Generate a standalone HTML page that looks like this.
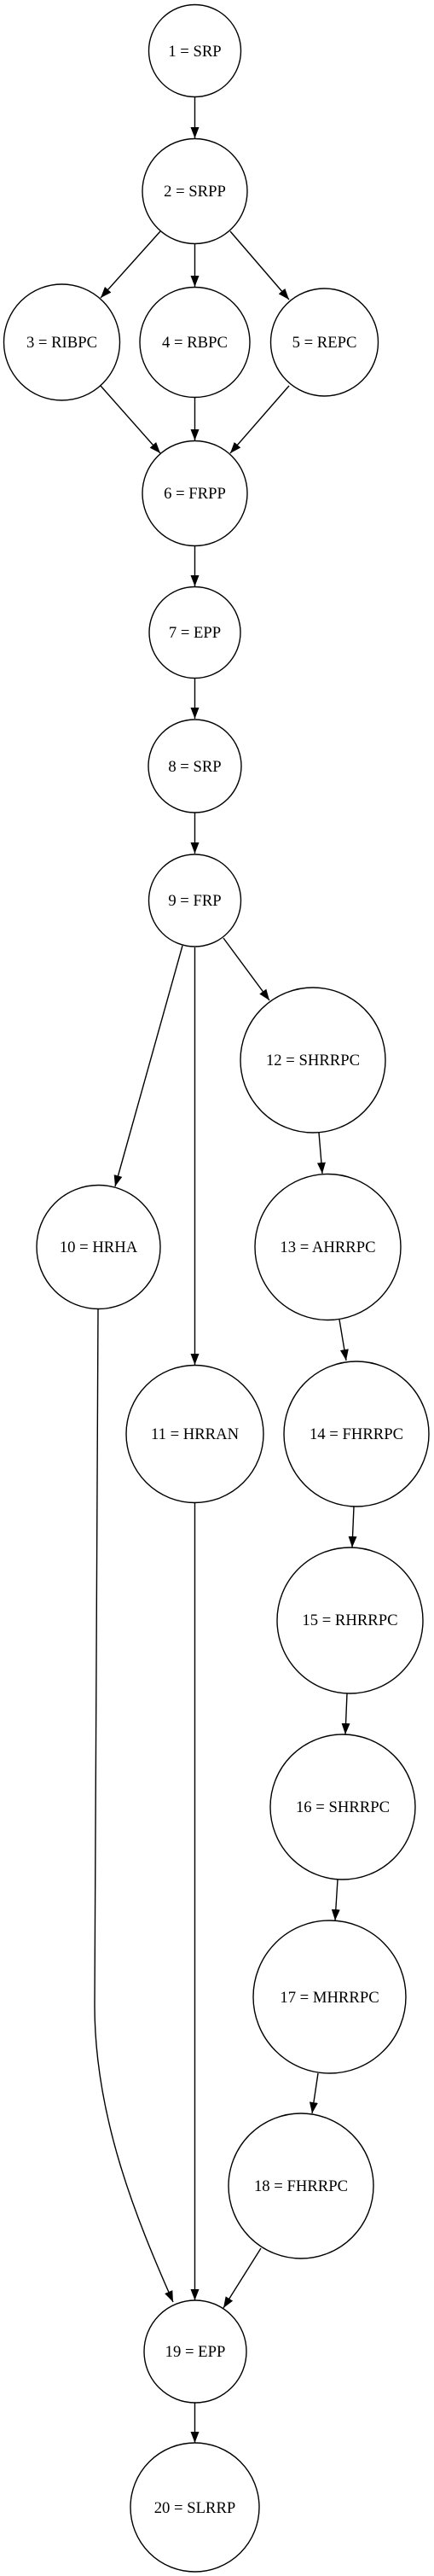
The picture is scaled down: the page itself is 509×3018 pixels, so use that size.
<!DOCTYPE html>
<html><head><meta charset="utf-8"><style>
html,body{margin:0;padding:0;background:#fff;}
svg{display:block;}
text{font-family:"Liberation Serif",serif;font-size:18.67px;fill:#000;text-anchor:middle;}
</style></head><body>
<svg width="509" height="3018" viewBox="0 0 509 3018" xmlns="http://www.w3.org/2000/svg">
<defs>
<marker id="a" markerUnits="userSpaceOnUse" markerWidth="16" markerHeight="12" refX="13" refY="5" orient="auto">
<path d="M0,0 L13,5 L0,10 Z" fill="#000"/>
</marker>
</defs>
<g fill="none" stroke="#000" stroke-width="1.4">
<circle cx="228.5" cy="59.5" r="54"/>
<circle cx="228.5" cy="224" r="61.5"/>
<circle cx="72.5" cy="401" r="68"/>
<circle cx="228.5" cy="401" r="64.5"/>
<circle cx="380.5" cy="401" r="63"/>
<circle cx="228.5" cy="578" r="61.5"/>
<circle cx="228.5" cy="741" r="53.5"/>
<circle cx="228.5" cy="897.5" r="54.5"/>
<circle cx="228.5" cy="1055" r="54"/>
<circle cx="115.5" cy="1461" r="72.5"/>
<circle cx="228.5" cy="1680" r="80.5"/>
<circle cx="367" cy="1242" r="85"/>
<circle cx="384.5" cy="1461" r="85.5"/>
<circle cx="418" cy="1680" r="85"/>
<circle cx="410.5" cy="1898.5" r="85.5"/>
<circle cx="402" cy="2117" r="85"/>
<circle cx="386.5" cy="2339.5" r="89.5"/>
<circle cx="353" cy="2561" r="85"/>
<circle cx="229" cy="2755" r="60"/>
<circle cx="228.5" cy="2937.5" r="75.5"/>
</g>
<g fill="none" stroke="#000" stroke-width="1.4" marker-end="url(#a)">
<line x1="228.5" y1="114" x2="228.5" y2="162"/>
<line x1="188" y1="271" x2="118" y2="349"/>
<line x1="228.5" y1="286" x2="228.5" y2="336"/>
<line x1="270" y1="271" x2="339" y2="351"/>
<line x1="118" y1="452" x2="188" y2="531"/>
<line x1="228.5" y1="466" x2="228.5" y2="516"/>
<line x1="339" y1="452" x2="270" y2="531"/>
<line x1="228.5" y1="640" x2="228.5" y2="687"/>
<line x1="228.5" y1="795" x2="228.5" y2="842"/>
<line x1="228.5" y1="952" x2="228.5" y2="1000"/>
<line x1="214" y1="1108" x2="135" y2="1390"/>
<line x1="228.5" y1="1110" x2="228.5" y2="1599"/>
<line x1="262" y1="1099" x2="316" y2="1172"/>
<line x1="374" y1="1327" x2="378" y2="1375"/>
<line x1="398" y1="1546" x2="406" y2="1594"/>
<line x1="415" y1="1765" x2="413" y2="1813"/>
<line x1="407" y1="1984" x2="405" y2="2032"/>
<line x1="396" y1="2202" x2="393" y2="2250"/>
<line x1="373" y1="2429" x2="366" y2="2476"/>
<path d="M115,1534 C113,1900 111,2250 111,2350 C111,2480 160,2600 203,2697"/>
<line x1="228.5" y1="1761" x2="228.5" y2="2695"/>
<line x1="306" y1="2634" x2="262" y2="2704"/>
<line x1="228.5" y1="2815" x2="228.5" y2="2862"/>
</g>
<text x="228.5" y="66">1 = SRP</text>
<text x="228.5" y="230">2 = SRPP</text>
<text x="72.5" y="407">3 = RIBPC</text>
<text x="228.5" y="407">4 = RBPC</text>
<text x="380.5" y="407">5 = REPC</text>
<text x="228.5" y="584">6 = FRPP</text>
<text x="228.5" y="747">7 = EPP</text>
<text x="228.5" y="904">8 = SRP</text>
<text x="228.5" y="1061">9 = FRP</text>
<text x="115.5" y="1467">10 = HRHA</text>
<text x="228.5" y="1686">11 = HRRAN</text>
<text x="367" y="1248">12 = SHRRPC</text>
<text x="384.5" y="1467">13 = AHRRPC</text>
<text x="418" y="1686">14 = FHRRPC</text>
<text x="410.5" y="1904">15 = RHRRPC</text>
<text x="402" y="2123">16 = SHRRPC</text>
<text x="386.5" y="2346">17 = MHRRPC</text>
<text x="353" y="2567">18 = FHRRPC</text>
<text x="229" y="2761">19 = EPP</text>
<text x="228.5" y="2944">20 = SLRRP</text>
</svg>
</body></html>
